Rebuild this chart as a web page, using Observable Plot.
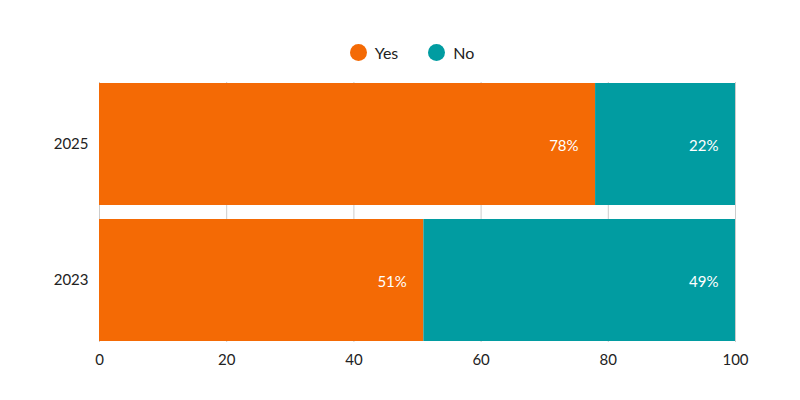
<!DOCTYPE html>
<html><head><meta charset="utf-8">
<script src="https://cdn.jsdelivr.net/npm/d3@7"></script>
<script src="https://cdn.jsdelivr.net/npm/@observablehq/plot@0.6"></script>
<style>
body{margin:0;background:#fff;font-family:Lato,"Open Sans",sans-serif;}
#wrap{position:relative;width:800px;height:400px;}
#legend{position:absolute;top:43px;left:24px;width:776px;display:flex;justify-content:center;gap:30px;font-size:16px;color:#222;}
#legend span{display:flex;align-items:center;gap:8px;}
#legend i{display:inline-block;width:17px;height:17px;border-radius:50%;}
</style></head>
<body><div id="wrap"><div id="legend"></div><div id="chart"></div></div>
<script>
const years = ["2025", "2023"];
const answers = ["Yes", "No"];
const yesValues = [78, 51];
const noValues = [22, 49];
const colors = ["#f46a05", "#019ca1"];
const xTicks = [0, 20, 40, 60, 80, 100];

const data = [];
years.forEach((y, i) => {
  data.push({year: y, answer: "Yes", value: yesValues[i]});
  data.push({year: y, answer: "No", value: noValues[i]});
});

const legend = document.getElementById("legend");
answers.forEach((a, i) => {
  const s = document.createElement("span");
  s.innerHTML = `<i style="background:${colors[i]}"></i>${a}`;
  legend.appendChild(s);
});

const chart = Plot.plot({
  width: 800, height: 400,
  marginTop: 82, marginBottom: 58, marginLeft: 99, marginRight: 65,
  style: {fontFamily: "Lato, 'Open Sans', sans-serif", fontSize: "15px", color: "#222"},
  x: {domain: [0, 100], ticks: xTicks, label: null, tickSize: 0, tickPadding: 12},
  y: {domain: years, label: null, tickSize: 0, tickPadding: 11, paddingInner: 0.1, paddingOuter: 0},
  color: {domain: answers, range: colors},
  marks: [
    Plot.gridX(xTicks, {stroke: "#ccc", strokeOpacity: 1}),
    Plot.barX(data, Plot.stackX({y: "year", x: "value", fill: "answer", order: answers})),
    Plot.text(data, Plot.stackX2({y: "year", x: "value", z: "answer", order: answers,
      text: d => d.value + "%", fill: "white", textAnchor: "end", dx: -17, dy: 2, fontSize: 15}))
  ]
});
document.getElementById("chart").appendChild(chart);
</script></body></html>
